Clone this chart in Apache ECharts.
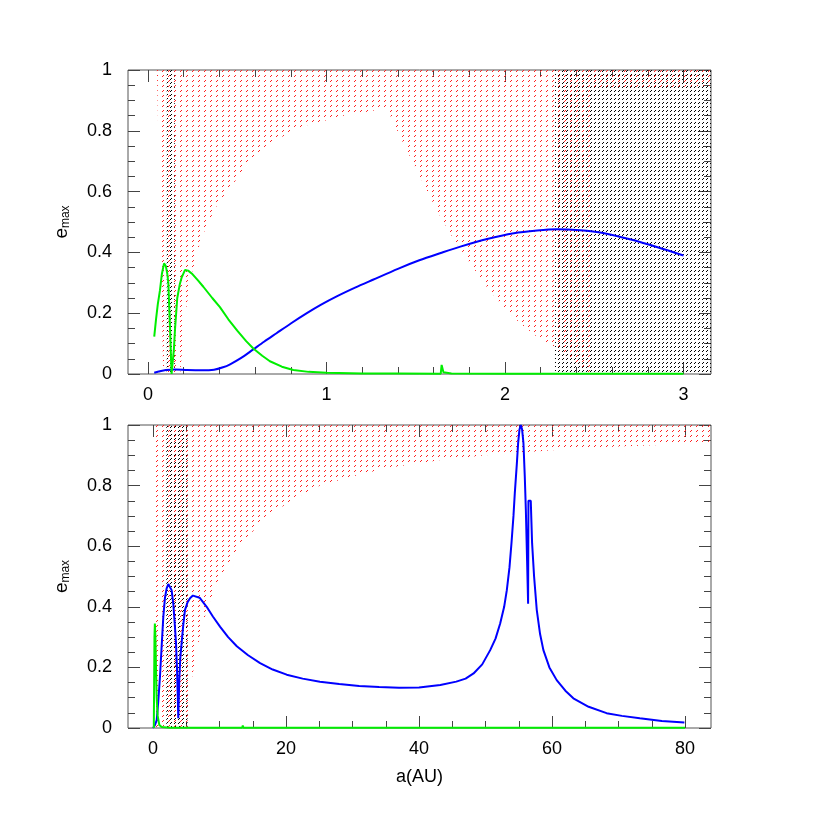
<!DOCTYPE html>
<html>
<head>
<meta charset="utf-8">
<script src="https://cdn.jsdelivr.net/npm/echarts@6/dist/echarts.min.js"></script>
<style>
  html, body { margin: 0; background: #fff; }
  #chart { width: 830px; height: 830px; }
</style>
</head>
<body>
<div id="chart"></div>
<script>
// ---- data: [a (AU), e_max] ----
const topTicksMajor = [0, 1, 2, 3]
const topTicksMinor = [0, 0.2, 0.4, 0.6, 0.8, 1, 1.2, 1.4, 1.6, 1.8, 2, 2.2, 2.4, 2.6, 2.8, 3]
const botTicksMajor = [0, 20, 40, 60, 80]
const botTicksMinor = [0, 5, 10, 15, 20, 25, 30, 35, 40, 45, 50, 55, 60, 65, 70, 75, 80]

// red dotted zone (unstable orbits), outline
const topRedZone = [
  [0.05, 1], [0.085, 0], [0.18, 0], [0.21, 0.2], [0.245, 0.33], [0.29, 0.43], [0.33, 0.49],
  [0.4, 0.57], [0.46, 0.61], [0.54, 0.68], [0.63, 0.73], [0.72, 0.77], [0.81, 0.8], [0.9, 0.82],
  [1.0, 0.835], [1.1, 0.85], [1.22, 0.862], [1.337, 0.874], [1.43, 0.759], [1.524, 0.649],
  [1.617, 0.539], [1.71, 0.446], [1.804, 0.364], [1.897, 0.287], [1.99, 0.221], [2.084, 0.167],
  [2.177, 0.123], [2.29, 0.084], [2.4, 0.035], [2.476, 0], [2.48, 0.933], [2.7, 0.939],
  [2.95, 0.944], [3.16, 0.948], [3.16, 1]
]
// black dotted zones
const topBlackBand = [[0.105, 0], [0.15, 0], [0.15, 1], [0.105, 1]]
const topBlackRight = [[2.28, 0], [3.16, 0], [3.16, 1], [2.28, 1]]

const botRedZone = [
  [0, 1], [0, 0], [5.1, 0], [5.82, 0.16], [6.82, 0.28], [8.07, 0.39], [10.07, 0.5], [13.08, 0.6],
  [16.6, 0.69], [21.1, 0.755], [25.1, 0.8], [30, 0.83], [35, 0.857], [43, 0.884], [50, 0.9],
  [60, 0.917], [70, 0.929], [84, 0.94], [84, 1]
]
const botBlackBand = [[2.0, 0], [5.2, 0], [5.2, 1], [2.0, 1]]

const topBlue = [
  [0.035, 0.004], [0.06, 0.008], [0.1, 0.013], [0.15, 0.015], [0.22, 0.013], [0.3, 0.012],
  [0.37, 0.014], [0.42, 0.022], [0.46, 0.032], [0.52, 0.052], [0.59, 0.081], [0.65, 0.106],
  [0.72, 0.134], [0.8, 0.166], [0.89, 0.2], [0.97, 0.228], [1.06, 0.256], [1.16, 0.284],
  [1.26, 0.31], [1.4, 0.346], [1.52, 0.374], [1.64, 0.398], [1.75, 0.419], [1.9, 0.444],
  [2.05, 0.463], [2.18, 0.472], [2.29, 0.476], [2.42, 0.473], [2.55, 0.464], [2.7, 0.443],
  [2.85, 0.418], [3.0, 0.39]
]
const topGreen = [
  [0.035, 0.123], [0.045, 0.18], [0.055, 0.23], [0.067, 0.275], [0.078, 0.33], [0.09, 0.364],
  [0.1, 0.355], [0.108, 0.33], [0.114, 0.3], [0.119, 0.22], [0.123, 0.157], [0.128, 0.07],
  [0.132, 0.0], [0.138, 0.0], [0.145, 0.08], [0.151, 0.144], [0.164, 0.25], [0.178, 0.295],
  [0.189, 0.318], [0.207, 0.342], [0.225, 0.34], [0.25, 0.328], [0.28, 0.308], [0.31, 0.287],
  [0.36, 0.25], [0.403, 0.22], [0.45, 0.18], [0.5, 0.143], [0.55, 0.108], [0.59, 0.084],
  [0.64, 0.06], [0.683, 0.042], [0.75, 0.024], [0.814, 0.013], [0.9, 0.007], [1.0, 0.004],
  [1.2, 0.002], [1.4, 0.002], [1.64, 0.001], [1.645, 0.03], [1.655, 0.006], [1.7, 0.002],
  [2.0, 0.001], [2.5, 0.001], [3.0, 0.001]
]

const botBlue = [
  [0.0, 0.0], [0.3, 0.01], [0.56, 0.026], [0.8, 0.09], [1.05, 0.17], [1.3, 0.27], [1.55, 0.367],
  [1.8, 0.43], [2.05, 0.461], [2.3, 0.475], [2.56, 0.478], [2.8, 0.455], [3.05, 0.41],
  [3.25, 0.35], [3.46, 0.28], [3.6, 0.2], [3.7, 0.12], [3.8, 0.032], [3.95, 0.16], [4.1, 0.23],
  [4.3, 0.28], [4.55, 0.34], [4.81, 0.39], [5.2, 0.415], [5.56, 0.428], [6.0, 0.437],
  [6.3, 0.439], [7.0, 0.43], [8.07, 0.4], [9.0, 0.368], [10.1, 0.334], [11.3, 0.3], [12.6, 0.27],
  [14.3, 0.24], [16.1, 0.214], [18, 0.193], [20.1, 0.176], [22.5, 0.163], [25.1, 0.153],
  [28, 0.145], [31, 0.139], [34, 0.135], [37, 0.133], [40, 0.134], [43.2, 0.142], [45.6, 0.153],
  [47, 0.163], [48.2, 0.18], [49.5, 0.21], [50.7, 0.257], [51.5, 0.295], [52.2, 0.345],
  [52.8, 0.4], [53.2, 0.455], [53.6, 0.53], [53.9, 0.61], [54.2, 0.7], [54.4, 0.775],
  [54.7, 0.87], [54.9, 0.94], [55.1, 0.985], [55.3, 1.0], [55.5, 0.985], [55.7, 0.94],
  [55.9, 0.83], [56.06, 0.72], [56.25, 0.55], [56.4, 0.41], [56.45, 0.75], [56.8, 0.75],
  [56.9, 0.68], [57.0, 0.61], [57.3, 0.5], [57.7, 0.39], [58.2, 0.31], [58.7, 0.257],
  [59.6, 0.2], [60.7, 0.158], [62, 0.123], [63.2, 0.098], [65.5, 0.07], [68.2, 0.049],
  [70.5, 0.04], [73.2, 0.032], [76.5, 0.023], [79.9, 0.018]
]
const botGreen = [
  [0.12, 0.0], [0.17, 0.15], [0.22, 0.3], [0.28, 0.345], [0.36, 0.3], [0.45, 0.2], [0.55, 0.1],
  [0.7, 0.04], [0.95, 0.01], [1.3, 0.003], [2.5, 0.001], [13.4, 0.001], [13.5, 0.008],
  [13.6, 0.001], [80, 0.001]
]

// ---- styling helpers ----
const FONT = 'Liberation Sans'
const TICK_COLOR = '#444'

function dotPattern(color, w, h, dots) {
  const c = document.createElement('canvas')
  c.width = w
  c.height = h
  const g = c.getContext('2d')
  g.fillStyle = color
  dots.forEach((d) => g.fillRect(d[0], d[1], d[2], d[3]))
  return { image: c, repeat: 'repeat' }
}
// small slanted dashes, like the dotted curves of the original
const redFill = dotPattern('#ff2020', 6, 5, [[0, 1, 1, 1], [1, 0, 1, 1]])
const blackFill = dotPattern('#000', 4, 4, [[2, 3, 1, 1], [3, 2, 1, 1]])

function zoneSeries(points, idx, fill) {
  return {
    type: 'custom',
    xAxisIndex: idx * 4,
    yAxisIndex: idx * 2,
    silent: true,
    clip: true,
    data: points,
    renderItem(params, api) {
      if (params.dataIndex !== 0) return
      return {
        type: 'polygon',
        shape: { points: points.map((p) => api.coord(p)) },
        style: { fill },
      }
    },
  }
}

function lineSeries(data, idx, color, smooth) {
  return {
    type: 'line',
    xAxisIndex: idx * 4,
    yAxisIndex: idx * 2,
    data,
    showSymbol: false,
    silent: true,
    smooth,
    lineStyle: { color, width: 2 },
    z: 5,
  }
}

function xAxes(gridIndex, min, max, majors, minors, withName) {
  const base = {
    type: 'value', gridIndex, min, max,
    splitLine: { show: false },
    axisLine: { show: false, onZero: false },
  }
  const tick = (vals, length) => ({ inside: true, length, customValues: vals, lineStyle: { color: TICK_COLOR } })
  return [
    {
      ...base, position: 'bottom',
      axisTick: tick(majors, 12),
      axisLabel: { customValues: majors, margin: 12, fontSize: 18, fontFamily: FONT, color: '#000' },
      name: withName ? 'a(AU)' : '',
      nameLocation: 'middle',
      nameGap: 40,
      nameTextStyle: { fontSize: 18, fontFamily: FONT, color: '#000' },
    },
    { ...base, position: 'bottom', axisTick: tick(minors, 7), axisLabel: { show: false } },
    { ...base, position: 'top', axisTick: tick(majors, 12), axisLabel: { show: false } },
    { ...base, position: 'top', axisTick: tick(minors, 7), axisLabel: { show: false } },
  ]
}

function yAxes(gridIndex) {
  const base = {
    type: 'value', gridIndex, min: 0, max: 1, interval: 0.2,
    splitLine: { show: false },
    axisLine: { show: false, onZero: false },
    axisTick: { inside: true, length: 12, lineStyle: { color: TICK_COLOR } },
    minorTick: { show: true, splitNumber: 4, length: 7, lineStyle: { color: TICK_COLOR } },
  }
  return [
    {
      ...base, position: 'left',
      axisLabel: { margin: 16, fontSize: 18, fontFamily: FONT, color: '#000' },
      name: '{e|e}{m|max}',
      nameLocation: 'middle',
      nameRotate: 90,
      nameGap: 56,
      nameTextStyle: {
        color: '#000',
        rich: {
          e: { fontSize: 19, fontFamily: FONT, color: '#000' },
          m: { fontSize: 12, fontFamily: FONT, color: '#000', padding: [9, 0, 0, 0] },
        },
      },
    },
    { ...base, position: 'right', axisLabel: { show: false } },
  ]
}

const chart = echarts.init(document.getElementById('chart'), null, { renderer: 'canvas' })
chart.setOption({
  animation: false,
  backgroundColor: '#fff',
  grid: [
    { left: 128, top: 70, width: 583, height: 304, show: true, borderColor: '#555', borderWidth: 1 },
    { left: 128, top: 425, width: 583, height: 303, show: true, borderColor: '#555', borderWidth: 1 },
  ],
  xAxis: [
    ...xAxes(0, -0.112, 3.154, topTicksMajor, topTicksMinor, false),
    ...xAxes(1, -3.76, 83.9, botTicksMajor, botTicksMinor, true),
  ],
  yAxis: [...yAxes(0), ...yAxes(1)],
  series: [
    zoneSeries(topBlackBand, 0, blackFill),
    zoneSeries(topBlackRight, 0, blackFill),
    zoneSeries(topRedZone, 0, redFill),
    lineSeries(topBlue, 0, '#0000ff', 0.3),
    lineSeries(topGreen, 0, '#00ee00', false),
    zoneSeries(botBlackBand, 1, blackFill),
    zoneSeries(botRedZone, 1, redFill),
    lineSeries(botBlue, 1, '#0000ff', false),
    lineSeries(botGreen, 1, '#00ee00', false),
  ],
})
</script>
</body>
</html>
